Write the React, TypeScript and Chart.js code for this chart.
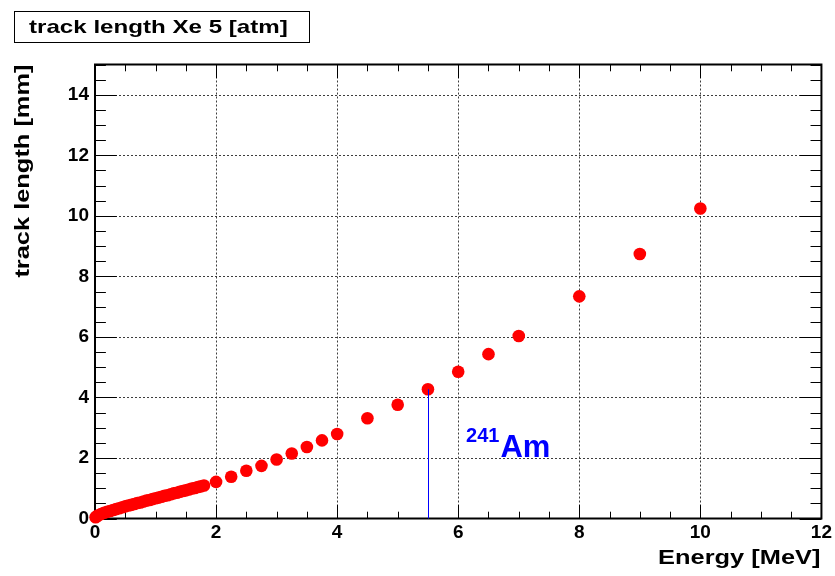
import { useEffect, useRef } from "react";
import { Chart, registerables } from "chart.js";

Chart.register(...registerables);

// ---- data ----
const energies = [
  0.01, 0.025, 0.05, 0.1, 0.15, 0.2, 0.25, 0.3, 0.35, 0.4, 0.45, 0.5, 0.55, 0.6, 0.65, 0.7, 0.75,
  0.8, 0.85, 0.9, 0.95, 1.0, 1.05, 1.1, 1.15, 1.2, 1.25, 1.3, 1.35, 1.4, 1.45, 1.5, 1.55, 1.6,
  1.65, 1.7, 1.75, 1.8, 2.0, 2.25, 2.5, 2.75, 3.0, 3.25, 3.5, 3.75, 4.0, 4.5, 5.0, 5.5, 6.0, 6.5,
  7.0, 8.0, 9.0, 10.0,
];
const trackLengths = [
  0.04, 0.07, 0.1, 0.15, 0.19, 0.22, 0.25, 0.28, 0.31, 0.34, 0.37, 0.4, 0.43, 0.45, 0.48, 0.51, 0.53,
  0.56, 0.59, 0.61, 0.64, 0.67, 0.69, 0.72, 0.75, 0.77, 0.8, 0.83, 0.85, 0.88, 0.91, 0.93, 0.96, 0.99,
  1.01, 1.04, 1.06, 1.09, 1.21, 1.38, 1.58, 1.74, 1.95, 2.15, 2.36, 2.58, 2.79, 3.31, 3.76, 4.27, 4.85, 5.43,
  6.03, 7.34, 8.74, 10.24,
];
const xTickValues = [0, 2, 4, 6, 8, 10, 12];
const yTickValues = [0, 2, 4, 6, 8, 10, 12, 14];
const xMin = 0;
const xMax = 12;
const yMin = 0;
const yMax = 15;
const minorStep = 0.5;
const amEnergy = 5.5;
const amLength = 4.27;
const amMass = "241";
const amSymbol = "Am";
const titleText = "track length Xe 5 [atm]";
const xTitleText = "Energy [MeV]";
const yTitleText = "track length [mm]";

// annotation anchor (data coordinates)
const amLabelX = 6.13;
const amLabelMassY = 2.53;
const amLabelSymbolY = 2.02;

const FONT = '"Liberation Sans", Arial, Helvetica, sans-serif';
const TEXT_STRETCH = 1.27;

function stretchedText(ctx: any, text: string, x: number, y: number, align: "left" | "right") {
  ctx.save();
  ctx.translate(x, y);
  ctx.scale(TEXT_STRETCH, 1);
  ctx.textAlign = align;
  ctx.fillText(text, 0, 0);
  ctx.restore();
}

const rootStyle = {
  id: "rootStyle",
  beforeDraw(chart: any) {
    const ctx = chart.ctx;
    ctx.save();
    ctx.fillStyle = "#ffffff";
    ctx.fillRect(0, 0, chart.width, chart.height);
    ctx.restore();
  },
  beforeDatasetsDraw(chart: any) {
    const ctx = chart.ctx;
    const { left, right, top, bottom } = chart.chartArea;
    const x = chart.scales.x;
    const y = chart.scales.y;
    ctx.save();
    // dotted grid at major ticks
    ctx.strokeStyle = "rgba(40,40,40,0.9)";
    ctx.lineWidth = 1;
    ctx.setLineDash([2, 2]);
    xTickValues.forEach((v) => {
      if (v <= x.min || v >= x.max) return;
      const px = Math.round(x.getPixelForValue(v)) + 0.5;
      ctx.beginPath();
      ctx.moveTo(px, top);
      ctx.lineTo(px, bottom);
      ctx.stroke();
    });
    yTickValues.forEach((v) => {
      if (v <= y.min || v >= y.max) return;
      const py = Math.round(y.getPixelForValue(v)) + 0.5;
      ctx.beginPath();
      ctx.moveTo(left, py);
      ctx.lineTo(right, py);
      ctx.stroke();
    });
    ctx.setLineDash([]);
    // ticks (inward, all sides)
    ctx.strokeStyle = "#000";
    ctx.lineWidth = 1;
    const yMaj = 0.03 * (right - left);
    const xMaj = 0.03 * (bottom - top);
    for (let v = x.min; v <= x.max + 1e-9; v += minorStep) {
      const isMajor = Math.abs(v / 2 - Math.round(v / 2)) < 1e-6;
      const len = isMajor ? xMaj : xMaj / 2;
      const px = Math.round(x.getPixelForValue(v)) + 0.5;
      ctx.beginPath();
      ctx.moveTo(px, bottom);
      ctx.lineTo(px, bottom - len);
      ctx.moveTo(px, top);
      ctx.lineTo(px, top + len);
      ctx.stroke();
    }
    for (let v = y.min; v <= y.max + 1e-9; v += minorStep) {
      const isMajor = Math.abs(v / 2 - Math.round(v / 2)) < 1e-6;
      const len = isMajor ? yMaj : yMaj / 2;
      const py = Math.round(y.getPixelForValue(v)) + 0.5;
      ctx.beginPath();
      ctx.moveTo(left, py);
      ctx.lineTo(left + len, py);
      ctx.moveTo(right, py);
      ctx.lineTo(right - len, py);
      ctx.stroke();
    }
    // frame
    ctx.lineWidth = 2;
    ctx.strokeRect(left, top, right - left, bottom - top);
    ctx.restore();
  },
  afterDatasetsDraw(chart: any) {
    const ctx = chart.ctx;
    const x = chart.scales.x;
    const y = chart.scales.y;
    // 241Am marker line, pixel-snapped
    ctx.save();
    ctx.strokeStyle = "#0000ff";
    ctx.lineWidth = 1;
    const px = Math.round(x.getPixelForValue(amEnergy)) + 0.5;
    ctx.beginPath();
    ctx.moveTo(px, y.getPixelForValue(0));
    ctx.lineTo(px, y.getPixelForValue(amLength));
    ctx.stroke();
    ctx.restore();
  },
  afterDraw(chart: any) {
    const ctx = chart.ctx;
    const { right, top } = chart.chartArea;
    const x = chart.scales.x;
    const y = chart.scales.y;
    ctx.save();
    // title box
    ctx.fillStyle = "#fff";
    ctx.fillRect(14, 11, 295, 31);
    ctx.strokeStyle = "#000";
    ctx.lineWidth = 1;
    ctx.strokeRect(14.5, 11.5, 295, 31);
    ctx.fillStyle = "#000";
    ctx.textBaseline = "alphabetic";
    ctx.font = `bold 19px ${FONT}`;
    stretchedText(ctx, titleText, 29, 32.5, "left");

    // x title
    ctx.font = `bold 20px ${FONT}`;
    stretchedText(ctx, xTitleText, right - 1, 564, "right");

    // y title
    ctx.save();
    ctx.translate(28.5, top);
    ctx.rotate(-Math.PI / 2);
    stretchedText(ctx, yTitleText, 0, 0, "right");
    ctx.restore();

    // 241Am label
    ctx.fillStyle = "#0000ff";
    ctx.textAlign = "left";
    ctx.font = `bold 20px ${FONT}`;
    const lx = x.getPixelForValue(amLabelX);
    ctx.fillText(amMass, lx, y.getPixelForValue(amLabelMassY));
    const w = ctx.measureText(amMass).width;
    ctx.font = `bold 31px ${FONT}`;
    ctx.fillText(amSymbol, lx + w + 1, y.getPixelForValue(amLabelSymbolY));
    ctx.restore();
  },
};

export default function App() {
  const ref = useRef<HTMLCanvasElement>(null);
  useEffect(() => {
    document.body.style.margin = "0";
    const canvas = ref.current;
    if (!canvas) return;
    const tickFont = { family: FONT, weight: "bold" as const, size: 19 };
    const chart = new Chart(canvas, {
      type: "scatter",
      data: {
        datasets: [
          {
            label: "track length",
            data: energies.map((e, i) => ({ x: e, y: trackLengths[i] })),
            backgroundColor: "#ff0000",
            borderWidth: 0,
            pointRadius: 6.3,
            pointHoverRadius: 6.3,
            showLine: false,
            clip: false as any,
          },
        ],
      },
      options: {
        animation: false,
        responsive: false,
        devicePixelRatio: 1,
        layout: { padding: { left: 0, right: 13, top: 64.5, bottom: 0 } },
        plugins: { legend: { display: false }, tooltip: { enabled: false } },
        events: [],
        scales: {
          x: {
            type: "linear",
            min: xMin,
            max: xMax,
            afterBuildTicks: (s: any) => {
              s.ticks = xTickValues.map((v) => ({ value: v }));
            },
            afterFit: (s: any) => {
              s.height = 57.5;
            },
            grid: { display: false, drawTicks: false },
            border: { display: false },
            ticks: { font: tickFont, color: "#000", padding: 3, maxRotation: 0, autoSkip: false },
          },
          y: {
            type: "linear",
            min: yMin,
            max: yMax,
            afterBuildTicks: (s: any) => {
              s.ticks = yTickValues.map((v) => ({ value: v }));
            },
            afterFit: (s: any) => {
              s.width = 95;
            },
            grid: { display: false, drawTicks: false },
            border: { display: false },
            ticks: { font: tickFont, color: "#000", padding: 6, autoSkip: false },
          },
        },
      },
      plugins: [rootStyle],
    });
    return () => chart.destroy();
  }, []);
  return <canvas ref={ref} width={835} height={576} style={{ display: "block", width: 835, height: 576 }} />;
}
